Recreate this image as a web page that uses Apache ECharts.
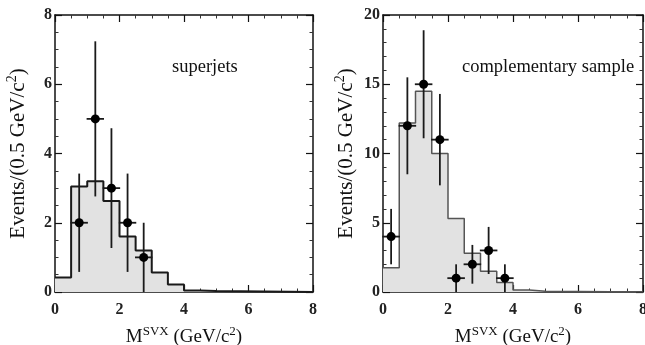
<!DOCTYPE html>
<html>
<head>
<meta charset="utf-8">
<script src="https://cdn.jsdelivr.net/npm/echarts@6/dist/echarts.min.js"></script>
<style>
html,body{margin:0;padding:0;background:#fff;}
#c{width:645px;height:345px;}
</style>
</head>
<body>
<div id="c"></div>
<script>
// Bin edges (GeV/c^2), bin width 0.5
const binEdges = [0, 0.5, 1, 1.5, 2, 2.5, 3, 3.5, 4, 4.5, 5];
// Expected (histogram) per bin
const superjetsHist = [0.42, 3.05, 3.2, 2.63, 1.6, 1.2, 0.56, 0.22, 0.04, 0.03];
const complementaryHist = [1.75, 12.2, 14.5, 10.0, 5.3, 2.8, 1.5, 0.68, 0.15, 0.05];
// Data points: bin centre, count, lower, upper
const superjetsX = [0.75, 1.25, 1.75, 2.25, 2.75];
const superjetsY = [2, 5, 3, 2, 1];
const superjetsLo = [0.58, 2.76, 1.27, 0.58, 0];
const superjetsHi = [3.42, 7.24, 4.73, 3.42, 2.0];
const complementaryX = [0.25, 0.75, 1.25, 1.75, 2.25, 2.75, 3.25, 3.75];
const complementaryY = [4, 12, 15, 11, 1, 2, 3, 1];
const complementaryLo = [2.0, 8.5, 11.1, 7.7, 0, 0.6, 1.3, 0];
const complementaryHi = [6.0, 15.5, 18.9, 14.3, 2.0, 3.4, 4.7, 2.0];
const xTicks = [0, 2, 4, 6, 8];
const leftYTicks = [0, 2, 4, 6, 8];
const rightYTicks = [0, 5, 10, 15, 20];

const FONT = '"Liberation Serif", "DejaVu Serif", serif';

function stepData(hist) {
  const d = [];
  for (let i = 0; i < hist.length; i++) d.push([binEdges[i], hist[i]]);
  d.push([binEdges[hist.length], 0]);
  d.push([8, 0]);
  return d;
}
function pointData(xs, ys, lo, hi) {
  return xs.map((x, i) => [x, ys[i], lo[i], hi[i]]);
}

const xName = '{m|M}{s|SVX}{m| (GeV/c}{s|2}{m|)}';
const yName = '{m|Events/(0.5 GeV/c}{s|2}{m|)}';
const richX = {
  m: {fontFamily: FONT, fontSize: 19, color: '#111', lineHeight: 22, verticalAlign: 'bottom'},
  s: {fontFamily: FONT, fontSize: 13, color: '#111', lineHeight: 22, verticalAlign: 'top'}
};
const richY = {
  m: {fontFamily: FONT, fontSize: 21, color: '#111', lineHeight: 24, verticalAlign: 'bottom'},
  s: {fontFamily: FONT, fontSize: 14, color: '#111', lineHeight: 24, verticalAlign: 'top'}
};

function xAxisDef(grid, showLabel, pos) {
  return {
    type: 'value', gridIndex: grid, min: 0, max: 8, interval: 2, position: pos,
    name: showLabel ? xName : '', nameLocation: 'middle', nameGap: 33,
    nameTextStyle: {rich: richX},
    axisLine: {show: true, onZero: false, lineStyle: {color: '#111', width: 1.5}},
    axisTick: {show: true, inside: true, length: 7, lineStyle: {color: '#111', width: 1.2}},
    minorTick: {show: true, splitNumber: 4, length: 3.5, lineStyle: {color: '#333', width: 1}},
    axisLabel: {show: showLabel, fontFamily: FONT, fontSize: 16, fontWeight: 'bold', color: '#222', margin: 10,
      formatter: v => xTicks.includes(v) ? String(v) : ''},
    splitLine: {show: false}
  };
}
function yAxisDef(grid, max, interval, minorSplit, ticks, showLabel, pos) {
  return {
    type: 'value', gridIndex: grid, min: 0, max: max, interval: interval, position: pos,
    name: showLabel ? yName : '', nameLocation: 'middle', nameGap: 26, nameRotate: 90,
    nameTextStyle: {rich: richY},
    axisLine: {show: true, onZero: false, lineStyle: {color: '#111', width: 1.5}},
    axisTick: {show: true, inside: true, length: 7, lineStyle: {color: '#111', width: 1.2}},
    minorTick: {show: true, splitNumber: minorSplit, length: 3.5, lineStyle: {color: '#333', width: 1}},
    axisLabel: {show: showLabel, fontFamily: FONT, fontSize: 16, fontWeight: 'bold', color: '#222', margin: 3,
      formatter: v => ticks.includes(v) ? String(v) : ''},
    splitLine: {show: false}
  };
}

function errRender(params, api) {
  const x = api.value(0), y = api.value(1), lo = api.value(2), hi = api.value(3);
  const pTop = api.coord([x, hi]);
  const pBot = api.coord([x, lo]);
  const pL = api.coord([x - 0.27, y]);
  const pR = api.coord([x + 0.27, y]);
  const pC = api.coord([x, y]);
  const st = {stroke: '#1a1a1a', lineWidth: 1.8};
  return {
    type: 'group',
    children: [
      {type: 'line', shape: {x1: pTop[0], y1: pTop[1], x2: pBot[0], y2: pBot[1]}, style: st},
      {type: 'line', shape: {x1: pL[0], y1: pL[1], x2: pR[0], y2: pR[1]}, style: st},
      {type: 'circle', shape: {cx: pC[0], cy: pC[1], r: 4.5}, style: {fill: '#000'}}
    ]
  };
}

const chart = echarts.init(document.getElementById('c'), null, {renderer: 'canvas'});
chart.setOption({
  animation: false,
  backgroundColor: '#fff',
  grid: [
    {left: 55, top: 15, width: 258, height: 277, containLabel: false, outerBoundsMode: 'none'},
    {left: 383, top: 15, width: 260, height: 277, containLabel: false, outerBoundsMode: 'none'}
  ],
  xAxis: [
    xAxisDef(0, true, 'bottom'), xAxisDef(0, false, 'top'),
    xAxisDef(1, true, 'bottom'), xAxisDef(1, false, 'top')
  ],
  yAxis: [
    yAxisDef(0, 8, 2, 4, leftYTicks, true, 'left'), yAxisDef(0, 8, 2, 4, leftYTicks, false, 'right'),
    yAxisDef(1, 20, 5, 5, rightYTicks, true, 'left'), yAxisDef(1, 20, 5, 5, rightYTicks, false, 'right')
  ],
  graphic: [
    {type: 'text', left: 172, top: 58, style: {text: 'superjets', fontFamily: FONT, fontSize: 18.5, fill: '#111'}},
    {type: 'text', left: 462, top: 58, style: {text: 'complementary sample', fontFamily: FONT, fontSize: 18.5, fill: '#111'}}
  ],
  series: [
    {
      type: 'line', xAxisIndex: 0, yAxisIndex: 0, step: 'end', symbol: 'none',
      data: stepData(superjetsHist),
      lineStyle: {color: '#1a1a1a', width: 2},
      areaStyle: {color: '#e2e2e2', opacity: 1}, z: 2
    },
    {
      type: 'custom', xAxisIndex: 0, yAxisIndex: 0, renderItem: errRender,
      data: pointData(superjetsX, superjetsY, superjetsLo, superjetsHi), z: 5,
      encode: {x: 0, y: [1, 2, 3]}
    },
    {
      type: 'line', xAxisIndex: 2, yAxisIndex: 2, step: 'end', symbol: 'none',
      data: stepData(complementaryHist),
      lineStyle: {color: '#555', width: 1.5},
      areaStyle: {color: '#e2e2e2', opacity: 1}, z: 2
    },
    {
      type: 'custom', xAxisIndex: 2, yAxisIndex: 2, renderItem: errRender,
      data: pointData(complementaryX, complementaryY, complementaryLo, complementaryHi), z: 5,
      encode: {x: 0, y: [1, 2, 3]}
    }
  ]
});
</script>
</body>
</html>
